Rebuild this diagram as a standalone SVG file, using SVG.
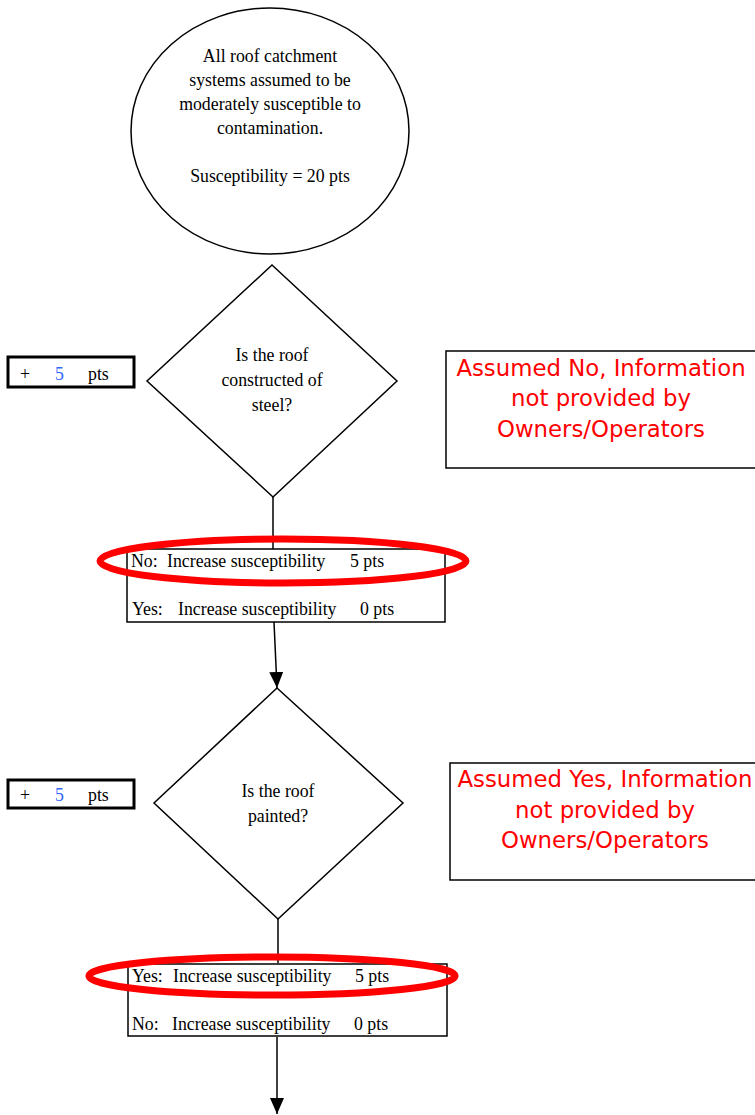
<svg xmlns="http://www.w3.org/2000/svg" width="755" height="1115" viewBox="0 0 755 1115">
<style>
.shape{fill:#fff;stroke:#000;stroke-width:1.5}
.t{font-family:"Liberation Serif","Times New Roman",serif;font-size:17.8px;fill:#000}
.c{text-anchor:middle}
.blue{fill:#3366ff}
.note{font-family:"DejaVu Sans",Verdana,sans-serif;font-size:22.8px;fill:#ff0000;text-anchor:middle}
.pts{fill:#fff;stroke:#000;stroke-width:3}
.ring{fill:none;stroke:#ff0000;stroke-width:7}
.conn{stroke:#000;stroke-width:1.5;fill:none}
</style>
<defs>
<marker id="ah" viewBox="0 0 16 14" refX="16" refY="7" markerWidth="16" markerHeight="14" markerUnits="userSpaceOnUse" orient="auto">
<path d="M0,0 L16,7 L0,14 z" fill="#000"/>
</marker>
</defs>
<rect width="755" height="1115" fill="#fff"/>
<g id="connectors">
<line class="conn" x1="273" y1="497" x2="273" y2="549"/>
<line class="conn" x1="274" y1="622" x2="277" y2="688" marker-end="url(#ah)" stroke-width="2"/>
<line class="conn" x1="278" y1="919" x2="278" y2="963"/>
<line class="conn" x1="277" y1="1037" x2="277" y2="1114" marker-end="url(#ah)" stroke-width="2"/>
</g>
<g id="start">
<ellipse class="shape" cx="270" cy="131" rx="139" ry="123"/>
<text class="t c" x="270" y="62">All roof catchment</text>
<text class="t c" x="270" y="86">systems assumed to be</text>
<text class="t c" x="270" y="110">moderately susceptible to</text>
<text class="t c" x="270" y="134">contamination.</text>
<text class="t c" x="270" y="182">Susceptibility = 20 pts</text>
</g>
<g id="q1">
<polygon class="shape" points="272,265 397,381 273,497 147,381"/>
<text class="t c" x="272" y="361">Is the roof</text>
<text class="t c" x="272" y="386">constructed of</text>
<text class="t c" x="272" y="411">steel?</text>
</g>
<g id="pts1">
<rect class="pts" x="8" y="357" width="126" height="30"/>
<text class="t" x="20" y="380">+</text>
<text class="t blue" x="55" y="380">5</text>
<text class="t" x="88" y="380">pts</text>
</g>
<g id="note1">
<rect class="shape" x="446" y="351" width="315" height="117"/>
<text class="note" x="601" y="376">Assumed No, Information</text>
<text class="note" x="601" y="406">not provided by</text>
<text class="note" x="601" y="437">Owners/Operators</text>
</g>
<g id="ans1">
<rect class="shape" x="127" y="549" width="318" height="73"/>
<text class="t" x="131" y="567">No:</text>
<text class="t" x="167" y="567">Increase susceptibility</text>
<text class="t" x="350" y="567">5 pts</text>
<text class="t" x="132" y="615">Yes:</text>
<text class="t" x="178" y="615">Increase susceptibility</text>
<text class="t" x="360" y="615">0 pts</text>
<ellipse class="ring" cx="283" cy="561" rx="183" ry="22"/>
</g>
<g id="q2">
<polygon class="shape" points="277,688 403,803 278,919 154,803"/>
<text class="t c" x="278" y="797">Is the roof</text>
<text class="t c" x="278" y="822">painted?</text>
</g>
<g id="pts2">
<rect class="pts" x="8" y="780" width="126" height="28"/>
<text class="t" x="20" y="801">+</text>
<text class="t blue" x="55" y="801">5</text>
<text class="t" x="88" y="801">pts</text>
</g>
<g id="note2">
<rect class="shape" x="450" y="763" width="315" height="117"/>
<text class="note" x="605" y="787">Assumed Yes, Information</text>
<text class="note" x="605" y="818">not provided by</text>
<text class="note" x="605" y="848">Owners/Operators</text>
</g>
<g id="ans2">
<rect class="shape" x="128" y="964" width="319" height="72"/>
<text class="t" x="132" y="982">Yes:</text>
<text class="t" x="173" y="982">Increase susceptibility</text>
<text class="t" x="355" y="982">5 pts</text>
<text class="t" x="132" y="1030">No:</text>
<text class="t" x="172" y="1030">Increase susceptibility</text>
<text class="t" x="354" y="1030">0 pts</text>
<ellipse class="ring" cx="272" cy="976" rx="183" ry="19"/>
</g>
</svg>
